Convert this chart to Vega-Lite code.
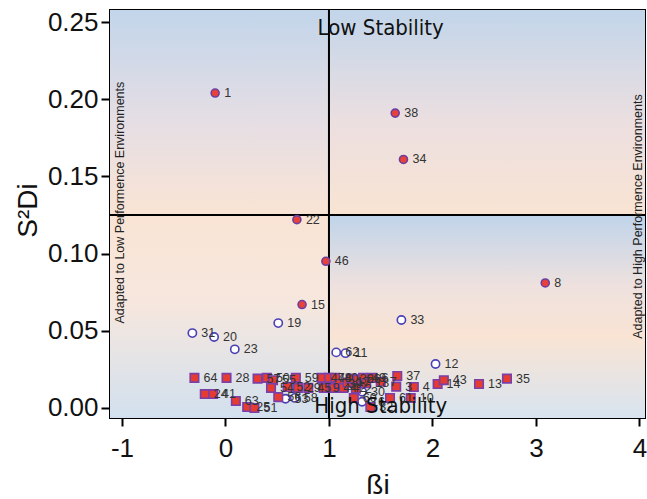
{
  "$schema": "https://vega.github.io/schema/vega-lite/v6.json",
  "width": 535,
  "height": 408,
  "autosize": {"type": "none"},
  "padding": {"left": 110, "top": 10, "right": 2, "bottom": 81},
  "background": "white",
  "config": {
    "view": {"stroke": "black", "strokeWidth": 2},
    "font": "Liberation Sans"
  },
  "datasets": {
    "bg": [
      {"part": "L", "x1": -1.116, "x2": 1, "y1": -0.0065, "y2": 0.2578},
      {"part": "TR", "x1": 1, "x2": 4.054, "y1": 0.125, "y2": 0.2578},
      {"part": "BR", "x1": 1, "x2": 4.054, "y1": -0.0065, "y2": 0.125}
    ],
    "pts": [
      {"id": "1", "type": "F", "b": -0.10, "s": 0.204},
      {"id": "38", "type": "F", "b": 1.64, "s": 0.191},
      {"id": "34", "type": "F", "b": 1.72, "s": 0.161},
      {"id": "22", "type": "F", "b": 0.69, "s": 0.122},
      {"id": "46", "type": "F", "b": 0.97, "s": 0.095},
      {"id": "15", "type": "F", "b": 0.74, "s": 0.067},
      {"id": "8", "type": "F", "b": 3.09, "s": 0.081},
      {"id": "31", "type": "O", "b": -0.32, "s": 0.0485},
      {"id": "20", "type": "O", "b": -0.11, "s": 0.046},
      {"id": "23", "type": "O", "b": 0.09, "s": 0.038},
      {"id": "19", "type": "O", "b": 0.51, "s": 0.055},
      {"id": "33", "type": "O", "b": 1.70, "s": 0.057},
      {"id": "62", "type": "O", "b": 1.07, "s": 0.036},
      {"id": "11", "type": "O", "b": 1.16, "s": 0.0355},
      {"id": "12", "type": "O", "b": 2.03, "s": 0.0285},
      {"id": "53", "type": "O", "b": 0.58, "s": 0.006},
      {"id": "58", "type": "O", "b": 0.67, "s": 0.0065},
      {"id": "30", "type": "O", "b": 1.32, "s": 0.0105},
      {"id": "16", "type": "O", "b": 1.32, "s": 0.004},
      {"id": "64", "type": "S", "b": -0.30, "s": 0.0195},
      {"id": "28", "type": "S", "b": 0.01, "s": 0.0195},
      {"id": "57", "type": "S", "b": 0.31, "s": 0.019},
      {"id": "50", "type": "S", "b": 0.40, "s": 0.0195},
      {"id": "55", "type": "S", "b": 0.46, "s": 0.018},
      {"id": "54", "type": "S", "b": 0.44, "s": 0.013},
      {"id": "59", "type": "S", "b": 0.68, "s": 0.0195},
      {"id": "24", "type": "S", "b": -0.20, "s": 0.009},
      {"id": "41", "type": "S", "b": -0.12, "s": 0.009},
      {"id": "63", "type": "S", "b": 0.10, "s": 0.0045},
      {"id": "25", "type": "S", "b": 0.21, "s": 0.0006},
      {"id": "51", "type": "S", "b": 0.28, "s": 0.0},
      {"id": "56", "type": "S", "b": 0.51, "s": 0.007},
      {"id": "52", "type": "S", "b": 0.60, "s": 0.0136},
      {"id": "29", "type": "S", "b": 0.70, "s": 0.013},
      {"id": "45", "type": "S", "b": 0.80, "s": 0.013},
      {"id": "47", "type": "S", "b": 0.93, "s": 0.0195},
      {"id": "48", "type": "S", "b": 1.00, "s": 0.0195},
      {"id": "9", "type": "S", "b": 0.95, "s": 0.013},
      {"id": "44", "type": "S", "b": 1.05, "s": 0.013},
      {"id": "40", "type": "S", "b": 1.06, "s": 0.0195},
      {"id": "39", "type": "S", "b": 1.10, "s": 0.0155},
      {"id": "42", "type": "S", "b": 1.14, "s": 0.013},
      {"id": "17", "type": "S", "b": 1.18, "s": 0.0165},
      {"id": "36", "type": "S", "b": 1.21, "s": 0.019},
      {"id": "2", "type": "S", "b": 1.26, "s": 0.0125},
      {"id": "26", "type": "S", "b": 1.28, "s": 0.0185},
      {"id": "49", "type": "S", "b": 1.33, "s": 0.0195},
      {"id": "18", "type": "S", "b": 1.36, "s": 0.016},
      {"id": "6", "type": "S", "b": 1.42, "s": 0.0195},
      {"id": "7", "type": "S", "b": 1.50, "s": 0.017},
      {"id": "37", "type": "S", "b": 1.66, "s": 0.0207},
      {"id": "3", "type": "S", "b": 1.65, "s": 0.0138},
      {"id": "4", "type": "S", "b": 1.82, "s": 0.0136},
      {"id": "14", "type": "S", "b": 2.05, "s": 0.0155},
      {"id": "43", "type": "S", "b": 2.11, "s": 0.018},
      {"id": "13", "type": "S", "b": 2.45, "s": 0.0155},
      {"id": "35", "type": "S", "b": 2.72, "s": 0.019},
      {"id": "60", "type": "S", "b": 1.24, "s": 0.0065},
      {"id": "61", "type": "S", "b": 1.59, "s": 0.0065},
      {"id": "10", "type": "S", "b": 1.79, "s": 0.0065},
      {"id": "32", "type": "S", "b": 1.40, "s": 0.0006}
    ],
    "big": [
      {"t": "Low Stability", "b": 1.50, "s": 0.246},
      {"t": "High Stability", "b": 1.50, "s": 0.0013}
    ],
    "side": [
      {"t": "Adapted to Low Performence Environments", "b": -1.015, "s": 0.133},
      {"t": "Adapted to High Performence Environments", "b": 3.99, "s": 0.124}
    ],
    "vline": [{"b": 1}],
    "hline": [{"s": 0.125}]
  },
  "layer": [
    {
      "data": {"name": "bg"},
      "transform": [{"filter": "datum.part == 'L'"}],
      "mark": {"type": "rect", "fill": {"gradient": "linear", "x1": 0, "y1": 0, "x2": 0, "y2": 1, "stops": [
        {"offset": 0, "color": "#c2d5ea"}, {"offset": 0.28, "color": "#e6dee4"}, {"offset": 0.5, "color": "#f9e4d4"}, {"offset": 0.72, "color": "#f6e7de"}, {"offset": 1, "color": "#d2e0ee"}]}},
      "encoding": {
        "x": {"field": "x1", "type": "quantitative", "scale": {"domain": [-1.116, 4.054], "nice": false, "zero": false},
          "axis": {"title": "ßi", "values": [-1, 0, 1, 2, 3, 4], "format": "d", "labelExpr": "replace(datum.label, '\u2212', '-')", "grid": false, "domain": false, "tickColor": "black", "tickWidth": 2, "tickSize": 8,
            "labelFontSize": 26, "labelColor": "#111", "labelPadding": 9, "labelFont": "Liberation Sans",
            "titleFontSize": 28, "titleFontWeight": "normal", "titleColor": "#111", "titleFont": "Liberation Sans", "titleBaseline": "middle", "titleY": 67}},
        "x2": {"field": "x2"},
        "y": {"field": "y1", "type": "quantitative", "scale": {"domain": [-0.0065, 0.2578], "nice": false, "zero": false},
          "axis": {"title": "S²Di", "values": [0, 0.05, 0.1, 0.15, 0.2, 0.25], "format": ".2f", "grid": false, "domain": false, "tickColor": "black", "tickWidth": 2, "tickSize": 9,
            "labelFontSize": 26, "labelColor": "#111", "labelPadding": 3, "labelFont": "Liberation Sans",
            "titleFontSize": 28, "titleFontWeight": "normal", "titleColor": "#111", "titleFont": "Liberation Sans", "titleAlign": "center", "titleBaseline": "middle", "titleX": -82, "titleY": 200}},
        "y2": {"field": "y2"}
      }
    },
    {
      "data": {"name": "bg"},
      "transform": [{"filter": "datum.part == 'TR'"}],
      "mark": {"type": "rect", "fill": {"gradient": "linear", "x1": 0, "y1": 0, "x2": 0, "y2": 1, "stops": [
        {"offset": 0, "color": "#c2d5ea"}, {"offset": 0.55, "color": "#ecdfe0"}, {"offset": 1, "color": "#f9e4d3"}]}},
      "encoding": {
        "x": {"field": "x1", "type": "quantitative", "title": "ßi", "scale": {"domain": [-1.116, 4.054], "nice": false, "zero": false}},
        "x2": {"field": "x2"},
        "y": {"field": "y1", "type": "quantitative", "title": "S²Di", "scale": {"domain": [-0.0065, 0.2578], "nice": false, "zero": false}},
        "y2": {"field": "y2"}
      }
    },
    {
      "data": {"name": "bg"},
      "transform": [{"filter": "datum.part == 'BR'"}],
      "mark": {"type": "rect", "fill": {"gradient": "linear", "x1": 0, "y1": 0, "x2": 0, "y2": 1, "stops": [
        {"offset": 0, "color": "#c0d4ea"}, {"offset": 0.35, "color": "#eee1de"}, {"offset": 0.6, "color": "#f9e4d4"}, {"offset": 1, "color": "#d8e4f0"}]}},
      "encoding": {
        "x": {"field": "x1", "type": "quantitative", "title": "ßi", "scale": {"domain": [-1.116, 4.054], "nice": false, "zero": false}},
        "x2": {"field": "x2"},
        "y": {"field": "y1", "type": "quantitative", "title": "S²Di", "scale": {"domain": [-0.0065, 0.2578], "nice": false, "zero": false}},
        "y2": {"field": "y2"}
      }
    },
    {
      "data": {"name": "vline"},
      "mark": {"type": "rule", "color": "black", "strokeWidth": 2},
      "encoding": {
        "x": {"field": "b", "type": "quantitative", "title": "ßi", "scale": {"domain": [-1.116, 4.054], "nice": false, "zero": false}}
      }
    },
    {
      "data": {"name": "hline"},
      "mark": {"type": "rule", "color": "black", "strokeWidth": 2},
      "encoding": {
        "y": {"field": "s", "type": "quantitative", "title": "S²Di", "scale": {"domain": [-0.0065, 0.2578], "nice": false, "zero": false}}
      }
    },
    {
      "data": {"name": "pts"},
      "mark": {"type": "point", "filled": false, "strokeWidth": 1.6, "opacity": 1, "fillOpacity": 1},
      "encoding": {
        "x": {"field": "b", "type": "quantitative", "title": "ßi", "scale": {"domain": [-1.116, 4.054], "nice": false, "zero": false}},
        "y": {"field": "s", "type": "quantitative", "title": "S²Di", "scale": {"domain": [-0.0065, 0.2578], "nice": false, "zero": false}},
        "shape": {"field": "type", "type": "nominal", "scale": {"domain": ["F", "O", "S"], "range": ["circle", "circle", "square"]}, "legend": null},
        "fill": {"field": "type", "type": "nominal", "scale": {"domain": ["F", "O", "S"], "range": ["#e8403a", "#ffffff", "#e53b30"]}, "legend": null},
        "stroke": {"field": "type", "type": "nominal", "scale": {"domain": ["F", "O", "S"], "range": ["#6b3fa0", "#4b3fb5", "#7a3fa8"]}, "legend": null},
        "size": {"field": "type", "type": "nominal", "scale": {"domain": ["F", "O", "S"], "range": [64, 72, 85]}, "legend": null}
      }
    },
    {
      "data": {"name": "pts"},
      "mark": {"type": "text", "align": "left", "baseline": "middle", "dx": 9, "fontSize": 12.5, "color": "#333"},
      "encoding": {
        "x": {"field": "b", "type": "quantitative", "title": "ßi", "scale": {"domain": [-1.116, 4.054], "nice": false, "zero": false}},
        "y": {"field": "s", "type": "quantitative", "title": "S²Di", "scale": {"domain": [-0.0065, 0.2578], "nice": false, "zero": false}},
        "text": {"field": "id"}
      }
    },
    {
      "data": {"name": "big"},
      "mark": {"type": "text", "align": "center", "baseline": "middle", "fontSize": 22, "font": "DejaVu Sans Condensed, Liberation Sans", "color": "#111"},
      "encoding": {
        "x": {"field": "b", "type": "quantitative", "title": "ßi", "scale": {"domain": [-1.116, 4.054], "nice": false, "zero": false}},
        "y": {"field": "s", "type": "quantitative", "title": "S²Di", "scale": {"domain": [-0.0065, 0.2578], "nice": false, "zero": false}},
        "text": {"field": "t"}
      }
    },
    {
      "data": {"name": "side"},
      "mark": {"type": "text", "align": "center", "baseline": "middle", "angle": 270, "fontSize": 12.5, "color": "#222"},
      "encoding": {
        "x": {"field": "b", "type": "quantitative", "title": "ßi", "scale": {"domain": [-1.116, 4.054], "nice": false, "zero": false}},
        "y": {"field": "s", "type": "quantitative", "title": "S²Di", "scale": {"domain": [-0.0065, 0.2578], "nice": false, "zero": false}},
        "text": {"field": "t"}
      }
    }
  ]
}
